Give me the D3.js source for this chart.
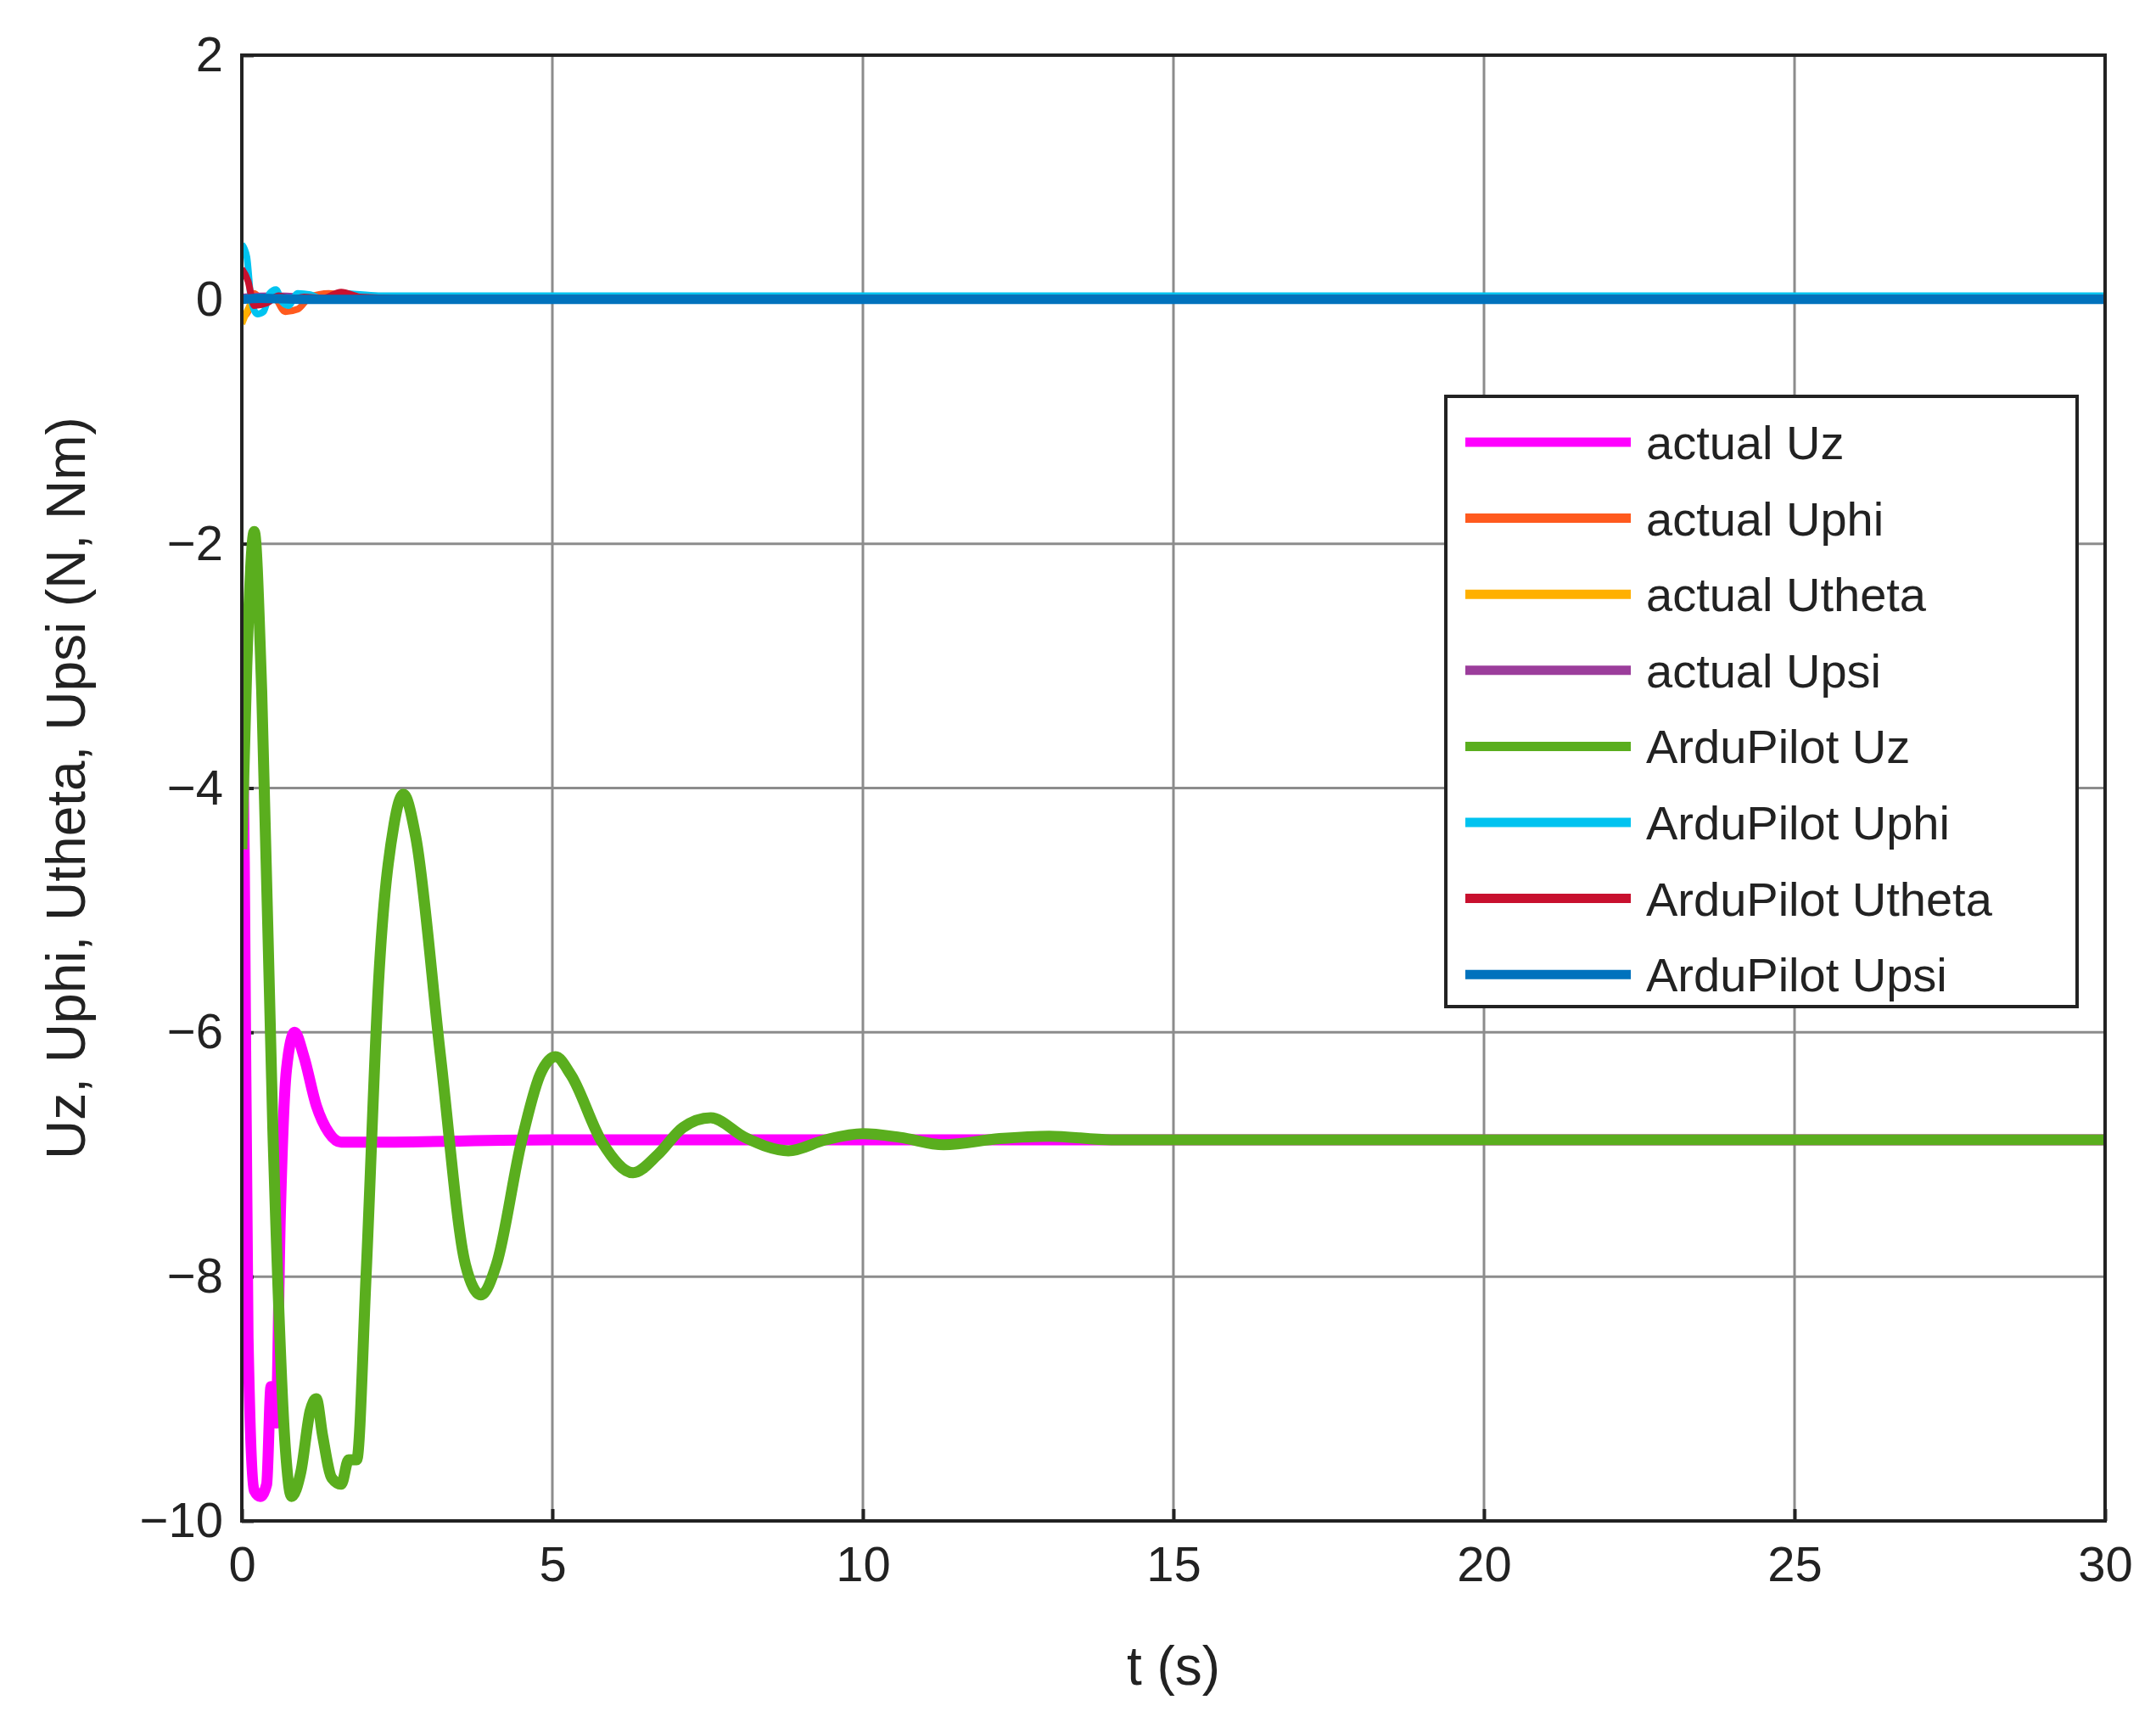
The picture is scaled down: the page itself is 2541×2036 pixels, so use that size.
<!DOCTYPE html>
<html><head><meta charset="utf-8">
<script src="https://cdn.jsdelivr.net/npm/d3@7"></script>
<style>body{margin:0;background:#fff}</style>
</head><body>
<svg width="2541" height="2036"></svg>
<script>
// data (t in s, value in N / Nm)
let seriesNames = ["actual Uz","actual Uphi","actual Utheta","actual Upsi","ArduPilot Uz","ArduPilot Uphi","ArduPilot Utheta","ArduPilot Upsi"];
let seriesColors = ["#ff00ff","#ff5a1e","#ffb000","#9b3d9b","#5aae1e","#00c3f0","#c8102e","#0072bd"];

let actualUz = [[0,-2.9],[0.04,-4.6],[0.1,-8.5],[0.2,-9.75],[0.3,-9.8],[0.4,-9.7],[0.47,-8.9],[0.55,-9.2],[0.62,-7.5],[0.72,-6.3],[0.85,-6.0],[1.0,-6.2],[1.2,-6.6],[1.4,-6.82],[1.6,-6.9],[2,-6.9],[5,-6.88],[30,-6.88]];
let actualUphi = [[0,-0.15],[0.1,-0.1],[0.2,0.05],[0.35,-0.02],[0.5,0.03],[0.7,-0.1],[0.9,-0.08],[1.1,0.02],[1.4,0.05],[1.8,0.02],[2.5,0.01],[30,0.01]];
let actualUtheta = [[0,-0.2],[0.1,-0.08],[0.25,0.02],[0.5,0.01],[1,0.01],[30,0.01]];
let actualUpsi = [[0,0.02],[0.5,0.03],[1.5,0.01],[3,0.02],[30,0.01]];
let arduUz = [[0,-4.5],[0.08,-3.0],[0.2,-1.9],[0.32,-3.2],[0.5,-6.8],[0.7,-9.4],[0.8,-9.8],[0.95,-9.6],[1.1,-9.1],[1.2,-9.0],[1.3,-9.3],[1.45,-9.65],[1.6,-9.7],[1.72,-9.5],[1.85,-9.5],[2.0,-8.0],[2.2,-5.6],[2.45,-4.3],[2.6,-4.05],[2.8,-4.4],[3.2,-6.2],[3.6,-7.9],[3.85,-8.15],[4.1,-7.9],[4.5,-6.9],[4.8,-6.35],[5.05,-6.2],[5.3,-6.35],[5.8,-6.9],[6.3,-7.15],[6.7,-7.0],[7.1,-6.78],[7.55,-6.7],[8.1,-6.86],[8.8,-6.97],[9.4,-6.88],[10,-6.83],[10.6,-6.86],[11.3,-6.92],[12.2,-6.87],[13,-6.85],[14,-6.88],[30,-6.88]];
let arduUphi = [[0,0.45],[0.08,0.35],[0.15,0.0],[0.25,-0.12],[0.35,-0.1],[0.45,0.05],[0.55,0.08],[0.65,-0.02],[0.75,-0.05],[0.9,0.05],[1.1,0.04],[1.3,0.0],[1.6,0.05],[2.2,0.03],[30,0.03]];
let arduUtheta = [[0,0.25],[0.1,0.15],[0.2,-0.05],[0.4,-0.03],[0.6,0.03],[0.8,0.0],[1.0,0.02],[1.3,0.01],[1.6,0.06],[1.9,0.02],[2.5,0.01],[30,0.01]];
let arduUpsi = [[0,0.0],[0.3,0.01],[1,0.0],[30,0.0]];
let allSeries = [actualUz, actualUphi, actualUtheta, actualUpsi, arduUz, arduUphi, arduUtheta, arduUpsi];
let drawOrder = [0,1,2,3,4,5,6,7];

let xTicks = [0,5,10,15,20,25,30];
let yTicks = [-10,-8,-6,-4,-2,0,2];

let plotL = 285, plotR = 2481, plotT = 65, plotB = 1792;
let x = d3.scaleLinear().domain([0,30]).range([plotL,plotR]);
let y = d3.scaleLinear().domain([-10,2]).range([plotB,plotT]);
let svg = d3.select("svg");
let font = "Arial, 'Liberation Sans', sans-serif";

// grid
svg.append("g").selectAll("line").data(xTicks.slice(1,-1)).enter().append("line")
        .attr("x1",d=>x(d)).attr("x2",d=>x(d)).attr("y1",plotT).attr("y2",plotB)
        .attr("stroke","#8c8c8c").attr("stroke-width",3);
svg.append("g").selectAll("line").data(yTicks.slice(1,-1)).enter().append("line")
        .attr("y1",d=>y(d)).attr("y2",d=>y(d)).attr("x1",plotL).attr("x2",plotR)
        .attr("stroke","#8c8c8c").attr("stroke-width",3);

// axes
let xAxis = d3.axisBottom(x).tickValues(xTicks).tickSize(-14).tickPadding(30);
let yAxis = d3.axisLeft(y).tickValues(yTicks).tickSize(-14).tickPadding(22);
let gx = svg.append("g").attr("transform","translate(0,"+plotB+")").call(xAxis);
let gy = svg.append("g").attr("transform","translate("+plotL+",0)").call(yAxis);
[gx,gy].forEach(function(g){
        g.select(".domain").remove();
        g.selectAll("line").attr("stroke","#222").attr("stroke-width",4);
        g.selectAll("text").attr("font-family",font).attr("font-size",58).attr("fill","#222");
});

// lines
let line = d3.line().x(d=>x(d[0])).y(d=>y(d[1])).curve(d3.curveMonotoneX);
svg.append("clipPath").attr("id","clip").append("rect")
        .attr("x",plotL).attr("y",plotT).attr("width",plotR-plotL).attr("height",plotB-plotT);
svg.append("g").attr("clip-path","url(#clip)").selectAll("path").data(drawOrder).enter().append("path")
        .attr("d",i=>line(allSeries[i]))
        .attr("fill","none").attr("stroke",i=>seriesColors[i])
        .attr("stroke-width",i=>(i==0||i==4)?13:(i==7?11:8))
        .attr("stroke-linejoin","round");

// box
svg.append("rect").attr("x",plotL).attr("y",plotT).attr("width",plotR-plotL).attr("height",plotB-plotT)
        .attr("fill","none").attr("stroke","#222").attr("stroke-width",4);

// axis labels
svg.append("text").attr("x",(plotL+plotR)/2).attr("y",1985).attr("text-anchor","middle")
        .attr("font-family",font).attr("font-size",64).attr("fill","#222").text("t (s)");
svg.append("text").attr("transform","translate(100,"+((plotT+plotB)/2)+") rotate(-90)")
        .attr("text-anchor","middle").attr("font-family",font).attr("font-size",64).attr("fill","#222")
        .text("Uz, Uphi, Utheta, Upsi (N, Nm)");

// legend
let lg = svg.append("g");
lg.append("rect").attr("x",1704).attr("y",467).attr("width",744).attr("height",719)
        .attr("fill","#fff").attr("stroke","#222").attr("stroke-width",4);
let items = lg.selectAll("g.item").data(seriesNames).enter().append("g")
        .attr("transform",(d,i)=>"translate(0,"+(521+i*89.6)+")");
items.append("line").attr("x1",1727).attr("x2",1922).attr("stroke",(d,i)=>seriesColors[i]).attr("stroke-width",11);
items.append("text").attr("x",1940).attr("y",20).attr("font-family",font).attr("font-size",56)
        .attr("fill","#222").text(d=>d);
</script>
</body></html>
